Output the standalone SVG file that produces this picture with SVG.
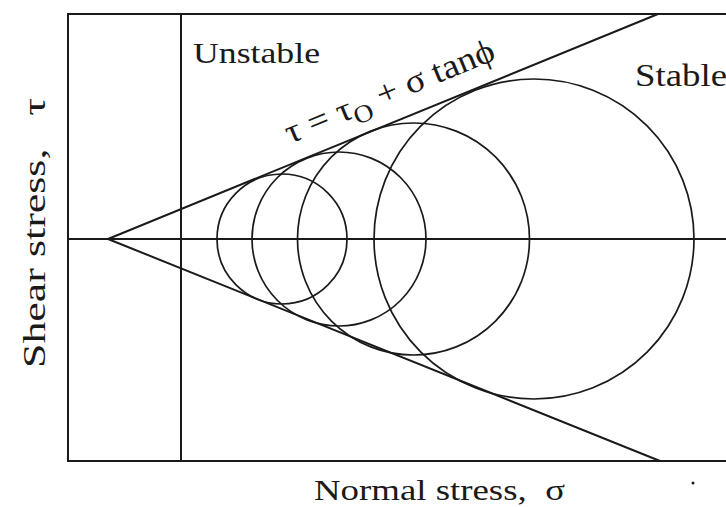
<svg xmlns="http://www.w3.org/2000/svg" width="726" height="507" viewBox="0 0 726 507">
<style>
.ln{stroke:#1a1a1a;stroke-width:2;fill:none;stroke-linecap:round}
.ci{stroke:#1a1a1a;stroke-width:1.7;fill:none}
.t{font-family:"Liberation Serif","Times New Roman","DejaVu Serif",serif;fill:#1a1a1a}
</style>
<rect width="726" height="507" fill="#fff"/>
<g id="frame">
<polyline class="ln" points="728,14 68,14 68,461 728,461"/>
<line class="ln" x1="181" y1="14" x2="181" y2="461"/>
<line class="ln" x1="68" y1="239" x2="728" y2="239"/>
</g>
<g id="envelope">
<line class="ln" x1="108" y1="239" x2="658" y2="14"/>
<line class="ln" x1="108" y1="239" x2="660" y2="461"/>
</g>
<g id="circles">
<circle class="ci" cx="282" cy="239" r="65"/>
<circle class="ci" cx="339" cy="239" r="87"/>
<circle class="ci" cx="413.5" cy="239" r="116"/>
<circle class="ci" cx="534" cy="239" r="160"/>
</g>
<g id="labels">
<text class="t" x="193" y="63" font-size="30" textLength="127" lengthAdjust="spacingAndGlyphs">Unstable</text>
<text class="t" x="635" y="86" font-size="32" textLength="92" lengthAdjust="spacingAndGlyphs">Stable</text>
<text class="t" x="314" y="500" font-size="30" textLength="251" lengthAdjust="spacingAndGlyphs" xml:space="preserve">Normal stress,  σ</text>
<text class="t" transform="translate(45,368) rotate(-90)" font-size="31" textLength="270" lengthAdjust="spacingAndGlyphs" xml:space="preserve">Shear stress,   τ</text>
<text class="t" transform="translate(290,144) rotate(-22.3)" font-size="34" textLength="224" lengthAdjust="spacingAndGlyphs" xml:space="preserve">τ = τ<tspan font-size="25" dy="8">O</tspan><tspan dy="-8"> + σ tanϕ</tspan></text>
</g>
<circle cx="693" cy="483" r="1.5" fill="#1a1a1a"/>
</svg>
